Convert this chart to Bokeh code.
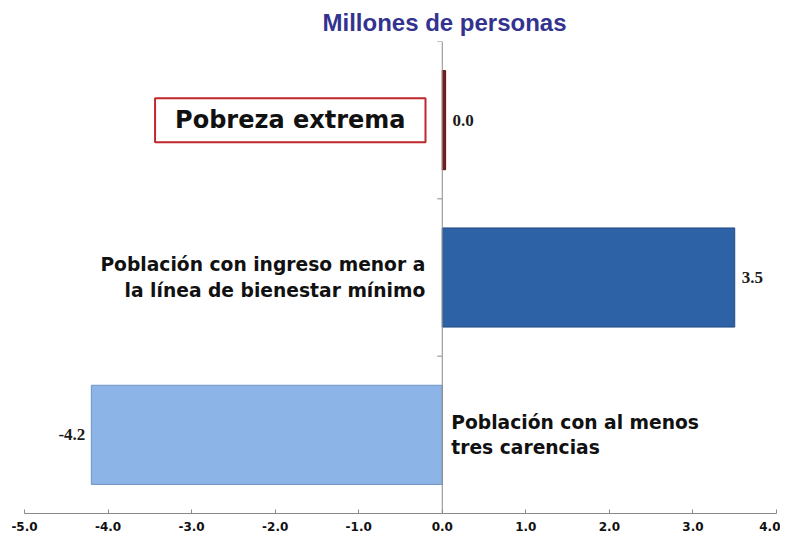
from bokeh.plotting import figure
from bokeh.models import Range1d, Span, Label, FixedTicker, ColumnDataSource
from bokeh.embed import file_html
from bokeh.resources import INLINE
from bokeh.core.properties import value

# ---- data ----
categories = ["Población con al menos\ntres carencias",
              "Población con ingreso menor a\nla línea de bienestar mínimo",
              "Pobreza extrema"]
positions = [0, 1, 2]
values = [-4.2, 3.5, 0.04]
value_labels = ["-4.2", "3.5", "0.0"]
bar_colors = ["#8DB4E6", "#2E62A6", "#7B1B1B"]
border_colors = ["#6F93C4", "#234C82", "#5E1212"]
tick_values = [-5, -4, -3, -2, -1, 0, 1, 2, 3, 4]
tick_labels = ["-5.0", "-4.0", "-3.0", "-2.0", "-1.0", "0.0", "1.0", "2.0", "3.0", "4.0"]
title_text = "Millones de personas"

src = ColumnDataSource(dict(
    y=positions, v=values, lab=value_labels, fill=bar_colors, line=border_colors,
    xoff=[-6 if v < 0 else 7 for v in values],
    align=["right" if v < 0 else "left" for v in values],
))

p = figure(width=780, height=534, output_backend="svg", toolbar_location=None,
           x_range=Range1d(-5, 4), y_range=Range1d(-0.5, 2.5),
           y_axis_location=None, min_border_left=24, min_border_right=4,
           min_border_top=41, min_border_bottom=21, title=title_text)
p.outline_line_color = None
p.xgrid.visible = False
p.ygrid.visible = False

p.title.align = "left"
p.title.offset = 298
p.title.standoff = 12
p.title.text_font = "Liberation Sans"
p.title.text_font_style = "bold"
p.title.text_font_size = "24px"
p.title.text_color = "#33338F"

p.hbar(y="y", left=0, right="v", height=0.63, fill_color="fill", line_color="line",
       line_width=1, source=src)

# value labels
p.text(x="v", y="y", text="lab", x_offset="xoff", text_align="align",
       text_baseline="middle", text_font=value("Liberation Serif"),
       text_font_style="bold", text_font_size="17px", text_color="#1a1a1a", source=src)

# vertical zero axis with ticks at category boundaries
p.add_layout(Span(location=0, dimension="height", line_color="#8a8a8a", line_width=1))
p.segment(x0=[-0.06] * 3, x1=[0] * 3, y0=[0.5, 1.5, 2.5], y1=[0.5, 1.5, 2.5],
          line_color="#8a8a8a", line_width=1)

# category labels
lab_font = value("DejaVu Sans")
p.text(x=[0], y=[positions[0]], text=[categories[0]], x_offset=9, text_align="left",
       text_baseline="middle", text_font=lab_font, text_font_style="bold",
       text_font_size="18.7px", text_line_height=1.2, text_color="#111111")
p.text(x=[0], y=[positions[1]], text=[categories[1]], x_offset=-17, text_align="right",
       text_baseline="middle", text_font=lab_font, text_font_style="bold",
       text_font_size="18.7px", text_line_height=1.2, text_color="#111111")
p.add_layout(Label(x=0, y=positions[2], x_offset=-152, text=categories[2],
                   text_align="center", text_baseline="middle", text_font="DejaVu Sans",
                   text_font_style="bold", text_font_size="24px", text_color="#111111",
                   border_line_color="#C0272D", border_line_width=2,
                   background_fill_color="white", padding=(20, 8)))

# x axis
ax = p.xaxis[0]
ax.ticker = FixedTicker(ticks=tick_values)
ax.major_label_overrides = {t: l for t, l in zip(tick_values, tick_labels)}
ax.axis_line_color = "#8a8a8a"
ax.major_tick_line_color = "#8a8a8a"
ax.major_tick_in = 4
ax.major_tick_out = 0
ax.minor_tick_line_color = None
ax.major_label_standoff = 8
ax.major_label_text_font = "DejaVu Sans"
ax.major_label_text_font_style = "bold"
ax.major_label_text_font_size = "12px"
ax.major_label_text_color = "#111111"

open("out.html", "w").write(file_html(p, INLINE))
